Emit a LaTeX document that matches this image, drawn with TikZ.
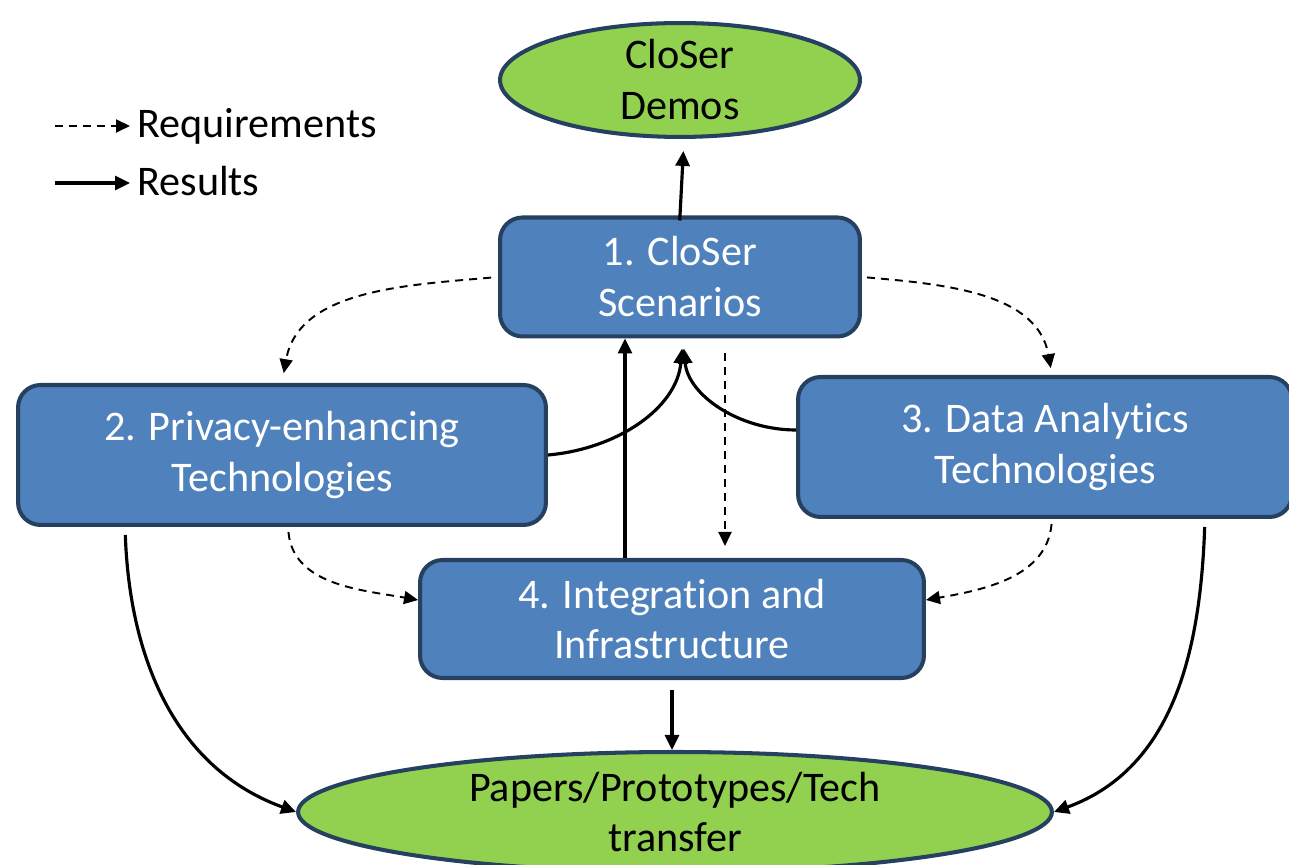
\documentclass[tikz,border=0pt]{standalone}
\usepackage{fontspec}
\setmainfont{Carlito}[Ligatures=NoCommon]
\usetikzlibrary{shapes.geometric,arrows.meta}
\definecolor{boxblue}{HTML}{4F81BD}
\definecolor{boxline}{HTML}{26405F}
\definecolor{leafgreen}{HTML}{92D050}
\begin{document}
\begin{tikzpicture}[x=0.02cm,y=0.02cm,font=\fontsize{24}{29}\selectfont,
		hop/.style={draw=boxline,fill=boxblue,line width=2.3pt,rounded corners=0.45cm,text=white,align=center},
		elip/.style={ellipse,draw=boxline,fill=leafgreen,line width=2.3pt,align=center,inner sep=0pt},
		kq/.style={line width=1.8pt,-{Triangle[length=0.3cm,width=0.28cm]}},
		yc/.style={line width=1.1pt,dash pattern=on 0.16cm off 0.12cm,-{Triangle[length=0.28cm,width=0.26cm]}}]
		\useasboundingbox (0,0) rectangle (1289,865);
		\clip (0,0) rectangle (1289,865);
		% Các khối
		\node[elip,minimum width=7.2cm,minimum height=2.1cm] (demo) at (680,785) {CloSer\\Demos};
		\node[hop,minimum width=7.2cm,minimum height=2.38cm] (kb) at (680,588) {1. CloSer\\Scenarios};
		\node[hop,minimum width=10.56cm,minimum height=2.8cm] (pr) at (282,410) {2. Privacy-enhancing\\Technologies};
		\node[hop,minimum width=9.88cm,minimum height=2.8cm] (da) at (1045,418) {3. Data Analytics\\Technologies};
		\node[hop,minimum width=10.08cm,minimum height=2.36cm] (tt) at (672,246) {4. Integration and\\Infrastructure};
		\node[elip,minimum width=15.08cm,minimum height=2.4cm] (sp) at (675,53) {Papers/Prototypes/Tech\\transfer};
		% Chú thích
		\coordinate (g1) at (55,739);
		\coordinate (g2) at (55,682);
		\node[anchor=west,inner sep=0pt] (yeucau) at (137,739) {Requirements};
		\node[anchor=west,inner sep=0pt] (ketqua) at (137,684) {Results};
		\draw[yc,shorten >=0.14cm] (g1) -- (yeucau.west);
		\draw[kq,shorten >=0.14cm] (g2) -- (g2 -| ketqua.west);
		% Mũi tên yêu cầu
		\draw[yc,shorten <=0.14cm,shorten >=0.2cm] (kb.west) to[out=185,in=80] (pr.north);
		\draw[yc,shorten <=0.1cm,shorten >=0.14cm] (kb.east) to[out=-5,in=100] ([xshift=0.14cm]da.north);
		\coordinate (xd) at ([xshift=0.9cm]kb.south);
		\draw[yc,shorten <=0.3cm,shorten >=0.24cm] (xd) -- (xd |- tt.north);
		\draw[yc,shorten <=0.1cm] ([xshift=0.12cm]pr.south) to[out=-85,in=170] ([yshift=0.38cm]tt.west);
		\draw[yc,shorten <=0.1cm] ([xshift=0.14cm]da.south) to[out=-95,in=10] ([yshift=0.38cm]tt.east);
		% Mũi tên kết quả
		\draw[kq,shorten <=-0.1cm,shorten >=0.24cm] (kb.north) -- ([xshift=0.08cm]demo.south);
		\draw[kq,shorten >=0.2cm] (pr.east) to[out=5,in=-95] ([xshift=0.06cm]kb.south);
		\draw[kq,shorten >=0.2cm] ([yshift=0.34cm]da.west) to[out=180,in=-85] ([xshift=0.06cm]kb.south);
		\coordinate (len) at ([xshift=-0.94cm]tt.north);
		\draw[kq] (len) -- (len |- kb.south);
		\draw[kq,shorten <=0.2cm] (tt.south) -- (tt.south |- sp.north);
		\draw[kq,shorten <=0.16cm] ([xshift=-3.14cm]pr.south) to[out=-88,in=160] (sp.west);
		\draw[kq,shorten <=0.16cm] ([xshift=3.2cm]da.south) to[out=-92,in=20] (sp.east);
\end{tikzpicture}
\end{document}
